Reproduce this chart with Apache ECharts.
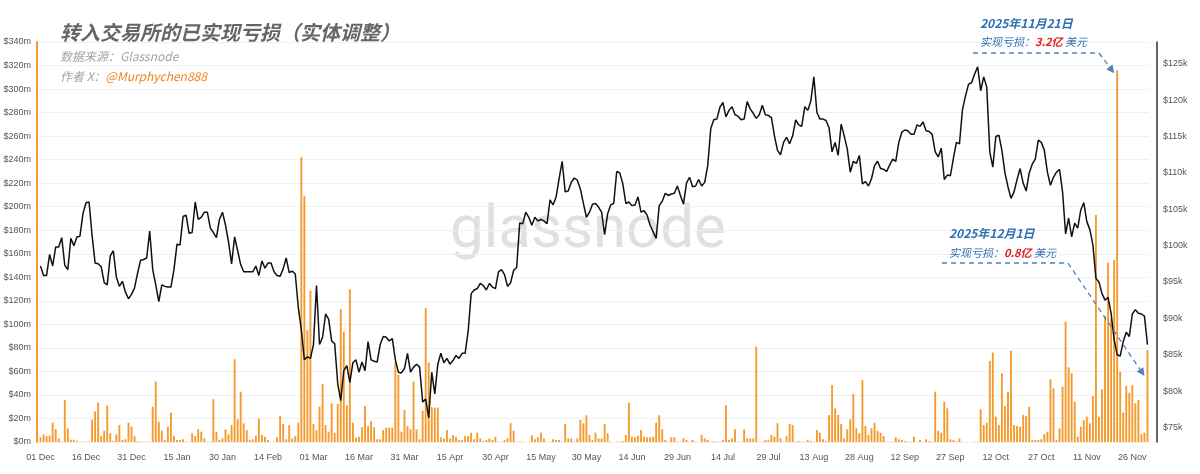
<!DOCTYPE html>
<html>
<head>
<meta charset="utf-8">
<title>转入交易所的已实现亏损（实体调整）</title>
<script src="https://cdn.jsdelivr.net/npm/echarts@6.0.0/dist/echarts.min.js"></script>
<style>
  html, body { margin: 0; padding: 0; background: #fff; }
  #chart { width: 1200px; height: 474px; }
</style>
</head>
<body>
<div id="chart"></div>
<script>
// 日期：2024-12-01 ~ 2025-12-01，每天一个点
const monthNames = ['Jan', 'Feb', 'Mar', 'Apr', 'May', 'Jun', 'Jul', 'Aug', 'Sep', 'Oct', 'Nov', 'Dec'];
const dates = [];
for (let i = 0; i < 366; i++) {
  const d = new Date(Date.UTC(2024, 11, 1) + i * 86400000);
  dates.push(String(d.getUTCDate()).padStart(2, '0') + ' ' + monthNames[d.getUTCMonth()]);
}

// 转入交易所的已实现亏损（百万美元）
const loss_1201 = [
  4, 6.5, 5, 5.4, 16.4, 11, 3, 0.5, 35.7, 11.6,
  2, 2, 1, 0.3, 0.2, 0.5, 0.5, 19, 26, 33.4,
  5, 9.6, 31, 7.4, 1, 6.5, 14.4, 1.7, 2.3, 16.4,
  13, 5, 0.8, 0.3, 0.3, 0.3, 0.3, 30, 51.3, 17.3,
  9.6, 1.7, 13, 25, 5.4, 1.7, 1.7, 2.3, 0.3, 0.3,
  7.4, 5, 10.8, 8.8, 3, 0.3, 0.3, 36.3, 8.8, 1.7,
  3, 10.8, 6.5, 14.4, 70.3, 19.3, 42.8, 15.9, 10.2, 1.7,
  2.3, 5.4, 20
];
const loss_0212 = [
  6, 4.5, 1.7, 0, 0.3, 4, 22, 15.3, 2.3, 14.4,
  3, 5, 16.4, 242, 209, 95, 128.6, 15.3, 10.2, 30,
  49.3, 14.4, 8.8, 32.9, 7.9, 32.3, 113, 93.8, 31.4, 129.8,
  16.4, 3.7, 4.5, 12.5, 30.6, 13.6, 17.8, 12.5, 2.3, 2.3,
  10.2, 12.2, 12.2, 12.2, 67.4, 57, 8.8, 27.2, 13.6, 10.8,
  51.3, 10.8, 2.3, 26.6, 114, 67.4, 29.5, 29.2, 29.2, 4,
  3, 10.2, 3, 6, 4.5, 1.7, 1.7, 5, 5, 7.9,
  2.3, 7.9, 3, 0.8
];
const loss_0427 = [
  1.7, 3, 1.7, 4.5, 0.3, 0.3, 1.7, 3, 15.9, 9.6,
  0.3, 0.3, 0.3, 0, 0, 5.7, 2.3, 4, 7.9, 3,
  0.3, 0.3, 2.3, 1.7, 1.7, 0.3, 15.3, 3, 3, 0.3,
  3, 18.7, 15.9, 22.7, 6, 1.7, 7.9, 3, 3, 15.3,
  7.4, 0.3, 0, 0.3, 0.3, 0.8, 6, 33.4, 4.5, 4,
  5, 10.2, 4.5, 4, 4, 4.5, 16.4, 22.7, 10.8, 1.7,
  0.3, 4, 4, 0.3, 0.3, 3, 1.7, 0.3, 1.7, 0.3,
  0, 6, 3, 1.7
];
const loss_0710 = [
  0.3, 0.8, 0.3, 0.3, 1.7, 31.4, 1.7, 3, 10.8, 0.3,
  0.3, 10.8, 3, 3, 3, 81, 0.3, 0.3, 1.7, 1.7,
  6, 4.5, 15.9, 3, 0.3, 5, 15.3, 14.4, 0.3, 0.8,
  0.3, 0.3, 1.7, 0.8, 0.3, 10.2, 7.9, 2.3, 0.8, 23,
  48.4, 28.6, 23, 15.3, 3, 10.8, 19.3, 40.8, 11.6, 7.4,
  52.7, 13.6, 6, 11.6, 16.4, 9.6, 7.9, 5, 0.3, 0.3,
  0.3, 4, 2.3, 1.7, 0.8, 0.3, 0.3, 4.5, 0.3, 1.7,
  0.3, 2.3, 0.8, 0.3
];
const loss_0922 = [
  42.8, 9.6, 7.9, 34.3, 28.6, 2.3, 1.7, 0.8, 3, 0.3,
  0, 0, 0, 0.3, 0.3, 27.8, 14.4, 16.4, 69, 76,
  21.5, 14.4, 58.4, 30.6, 42.8, 77.6, 14.4, 13.6, 13, 23,
  22, 30, 1.7, 1.7, 1.7, 2.3, 6.8, 8.8, 53.3, 45.6,
  1.7, 11.6, 47, 102.3, 63.5, 58.4, 34.3, 4.5, 13, 18.7,
  21.5, 15.9, 39, 193, 21.5, 44.8, 107, 152.4, 105, 154.7,
  316, 59.8, 25, 47.9, 41.9, 48.4, 32.9, 35.7, 6.5, 7.9,
  78.2
];

// BTC 价格（千美元）
const price_1201 = [
  97.2, 95.9, 95.9, 98.8, 97.2, 99.8, 99.8, 101.1, 97.3, 96.7,
  101.0, 100.0, 101.2, 101.3, 104.4, 105.9, 106.0, 101.4, 97.6, 97.5,
  97.1, 94.9, 94.6, 98.6, 99.3, 95.7, 94.4, 95.1, 93.6, 92.7,
  93.3, 94.2, 96.2, 98.0, 98.1, 98.3, 102.0, 96.7, 94.6, 92.3,
  94.6, 94.4, 94.3, 94.3, 96.7, 100.2, 100.1, 104.0, 104.2, 101.7,
  101.8, 106.0, 103.6, 103.9, 104.6, 104.6, 102.4, 101.8, 101.1, 103.6,
  104.6, 102.8, 100.5, 97.5, 101.2, 99.3, 97.4, 96.4, 96.4, 96.4,
  96.4, 97.2, 95.9
];
const price_0212 = [
  97.9, 96.9, 97.6, 97.6, 96.4, 95.9, 95.8,
  96.8, 98.3, 96.3, 96.5, 96.1, 91.5, 88.4, 84.3, 84.7, 84.5,
  86.4, 94.5, 86.4, 87.4, 90.6, 89.9, 86.9, 86.5, 81.0, 78.7,
  82.8, 83.5, 81.2, 83.9, 84.3, 82.6, 84.0, 82.8, 86.8, 84.3,
  84.1, 84.0, 86.4, 87.5, 87.4, 86.9, 87.2, 84.3, 82.6, 82.5,
  83.1, 85.2, 82.6, 83.3, 83.7, 83.3, 78.5, 78.9, 76.3, 82.6,
  79.6, 83.7, 85.2, 83.9, 84.5, 83.7, 84.2, 84.9, 84.5, 85.2,
  85.2, 88.2, 93.4, 93.9, 94.1, 94.8, 94.5
];
const price_0427 = [
  93.9, 94.8, 94.3,
  94.1, 96.4, 96.7, 96.0, 94.4, 94.9, 96.6, 97.0, 103.1, 103.0,
  104.6, 103.9, 102.8, 103.9, 103.4, 103.6, 103.4, 103.0, 106.3, 105.6,
  106.7, 109.2, 111.6, 107.4, 107.5, 108.7, 109.3, 109.0, 107.8, 105.8,
  103.9, 104.6, 105.7, 105.8, 105.3, 104.6, 101.5, 104.4, 105.6, 105.8,
  110.2, 110.0, 108.5, 105.8, 106.0, 105.5, 105.6, 106.7, 104.6, 104.8,
  104.2, 102.8, 101.9, 101.0, 105.5, 106.1, 107.2, 106.9, 107.1, 107.2,
  108.2, 106.9, 105.7, 108.6, 109.4, 108.1, 108.2, 109.1, 108.2, 108.7,
  111.0
];
const price_0710 = [
  116.1, 117.3, 117.4, 119.0, 119.7, 117.7, 118.6, 119.1, 118.0,
  117.8, 117.3, 117.4, 119.8, 118.8, 118.2, 117.5, 118.0, 119.3, 118.0,
  117.9, 117.6, 115.1, 113.1, 112.5, 114.2, 114.9, 114.0, 115.1, 117.3,
  116.6, 116.4, 119.1, 118.6, 119.9, 123.2, 118.3, 117.4, 117.4, 117.2,
  116.2, 112.9, 114.2, 112.4, 116.7, 115.1, 113.3, 110.1, 111.6, 111.3,
  112.4, 108.5, 108.8, 108.2, 109.2, 111.0, 111.6, 110.6, 110.5, 110.2,
  111.1, 111.9, 111.6, 114.2, 115.6, 115.9, 115.8, 115.3, 115.3, 116.6,
  116.4, 117.0, 115.8, 115.7, 115.3
];
const price_0922 = [
  112.9, 112.2, 113.4, 109.1, 109.7,
  109.6, 112.0, 114.2, 114.0, 118.7, 120.6, 122.2, 122.4, 123.6, 124.6,
  121.3, 123.2, 121.8, 112.9, 110.8, 115.0, 115.2, 113.1, 110.0, 108.1,
  106.5, 107.4, 109.1, 110.6, 108.6, 107.5, 110.0, 111.2, 111.9, 114.5,
  114.2, 113.1, 110.1, 108.3, 109.4, 110.1, 110.5, 107.4, 101.6, 103.8,
  101.2, 103.1, 102.4, 104.9, 105.9, 103.3, 102.2, 100.1, 95.5, 95.0,
  93.4, 92.5, 92.9, 90.7, 87.1, 85.0, 84.8, 86.8, 88.1, 87.5,
  90.6, 91.2, 90.7, 90.6, 90.3, 86.4
];

const lossValues = [].concat(loss_1201, loss_0212, loss_0427, loss_0710, loss_0922);
const priceValues = [].concat(price_1201, price_0212, price_0427, price_0710, price_0922);

const ORANGE = '#f59a2c';
const BLUE = '#2c6fb3';
const ARROW_BLUE = '#4f83b8';
const RED = '#e3201b';
const AXIS_TEXT = '#555';
const LATIN = '"Liberation Sans", Arial, sans-serif';
const CJK = '"Noto Sans CJK SC", sans-serif';

const chart = echarts.init(document.getElementById('chart'));

chart.setOption({
  animation: false,
  backgroundColor: '#fff',
  grid: { left: 39, right: 51, top: 42, bottom: 32 },
  xAxis: {
    type: 'category',
    data: dates,
    boundaryGap: true,
    axisLine: { show: false },
    axisTick: { show: false },
    axisLabel: {
      interval: 14,
      color: AXIS_TEXT,
      fontSize: 9,
      fontFamily: LATIN,
      margin: 11
    },
    splitLine: { show: false }
  },
  yAxis: [
    {
      type: 'value',
      min: 0,
      max: 340,
      interval: 20,
      offset: 2,
      axisLine: { show: true, lineStyle: { color: ORANGE, width: 2 } },
      axisTick: { show: false },
      axisLabel: {
        color: AXIS_TEXT,
        fontSize: 9,
        fontFamily: LATIN,
        margin: 6,
        formatter: v => '$' + v + 'm'
      },
      splitLine: { lineStyle: { color: '#f0f0f0', width: 1 } }
    },
    {
      type: 'value',
      position: 'right',
      min: 73,
      max: 128,
      interval: 1,
      offset: 8,
      axisLine: { show: true, lineStyle: { color: '#333', width: 1.5 } },
      axisTick: { show: false },
      axisLabel: {
        color: AXIS_TEXT,
        fontSize: 9,
        fontFamily: LATIN,
        margin: 6,
        formatter: v => (v % 5 === 0 ? '$' + v + 'k' : '')
      },
      splitLine: { show: false }
    }
  ],
  series: [
    {
      name: '已实现亏损',
      type: 'bar',
      data: lossValues,
      yAxisIndex: 0,
      barWidth: '62%',
      itemStyle: { color: ORANGE },
      z: 2
    },
    {
      name: 'BTC价格',
      type: 'line',
      data: priceValues,
      yAxisIndex: 1,
      symbol: 'none',
      lineStyle: { color: '#111', width: 1.5 },
      z: 3
    }
  ]
});

// 带箭头的虚线标注
function dashedArrow(points) {
  const a = points[points.length - 2];
  const b = points[points.length - 1];
  const ang = Math.atan2(b[1] - a[1], b[0] - a[0]);
  const len = 8, half = 4;
  const back = [b[0] - len * Math.cos(ang), b[1] - len * Math.sin(ang)];
  const left = [back[0] + half * Math.sin(ang), back[1] - half * Math.cos(ang)];
  const right = [back[0] - half * Math.sin(ang), back[1] + half * Math.cos(ang)];
  return [
    {
      type: 'polyline',
      z: 100,
      shape: { points: points.slice(0, -1).concat([back]) },
      style: { stroke: ARROW_BLUE, lineWidth: 1.3, lineDash: [5, 4], fill: null }
    },
    {
      type: 'polygon',
      z: 100,
      shape: { points: [b, left, right] },
      style: { fill: ARROW_BLUE }
    }
  ];
}

function text(x, y, str, font, fill) {
  return {
    type: 'text',
    x: x,
    y: y,
    z: 100,
    style: {
      text: str,
      font: font,
      fill: fill,
      align: 'left',
      verticalAlign: 'middle',
      textAlign: 'left',
      textVerticalAlign: 'middle'
    }
  };
}

function richText(x, y, str, rich) {
  return {
    type: 'text',
    x: x,
    y: y,
    z: 100,
    style: {
      text: str,
      rich: rich,
      align: 'left',
      verticalAlign: 'middle',
      textAlign: 'left',
      textVerticalAlign: 'middle'
    }
  };
}

const lossRich = {
  a: { fontFamily: CJK, fontSize: 11, fontStyle: 'italic', fill: BLUE },
  b: { fontFamily: CJK, fontSize: 11, fontStyle: 'italic', fontWeight: 'bold', fill: RED }
};

const idxNov21 = dates.indexOf('21 Nov');
const idxDec1 = dates.length - 1;
const pNov21 = chart.convertToPixel({ xAxisIndex: 0, yAxisIndex: 0 }, [idxNov21, lossValues[idxNov21]]);
const pDec1 = chart.convertToPixel({ xAxisIndex: 0, yAxisIndex: 0 }, [idxDec1, lossValues[idxDec1]]);

const graphics = [
  {
    type: 'text',
    x: 588,
    y: 232,
    z: -10,
    style: {
      text: 'glassnode',
      font: '400 60px Roboto, sans-serif',
      fill: '#e0e0e0',
      align: 'center',
      verticalAlign: 'middle',
      textAlign: 'center',
      textVerticalAlign: 'middle'
    }
  },
  text(60, 32, '转入交易所的已实现亏损（实体调整）', 'italic bold 20px ' + CJK, '#666'),
  text(60, 56, '数据来源：Glassnode', 'italic 12px ' + CJK, '#a3a3a3'),
  richText(60, 76, '{a|作者 X：}{b|@Murphychen888}', {
    a: { fontFamily: CJK, fontSize: 12, fontStyle: 'italic', fill: '#a3a3a3' },
    b: { fontFamily: CJK, fontSize: 12, fontStyle: 'italic', fill: '#f0821e' }
  }),
  text(980, 23, '2025年11月21日', 'italic bold 12px ' + CJK, BLUE),
  richText(980, 42, '{a|实现亏损：}{b|3.2亿}{a| 美元}', lossRich),
  text(949, 233, '2025年12月1日', 'italic bold 12px ' + CJK, BLUE),
  richText(949, 253, '{a|实现亏损：}{b|0.8亿}{a| 美元}', lossRich)
]
  .concat(dashedArrow([[973, 53], [1099, 53], [pNov21[0] - 3, pNov21[1] + 3]]))
  .concat(dashedArrow([[942, 263], [1068, 263], [pDec1[0] - 3, pDec1[1] + 26]]));

chart.setOption({ graphic: graphics });

window.addEventListener('resize', () => chart.resize());
</script>
</body>
</html>
